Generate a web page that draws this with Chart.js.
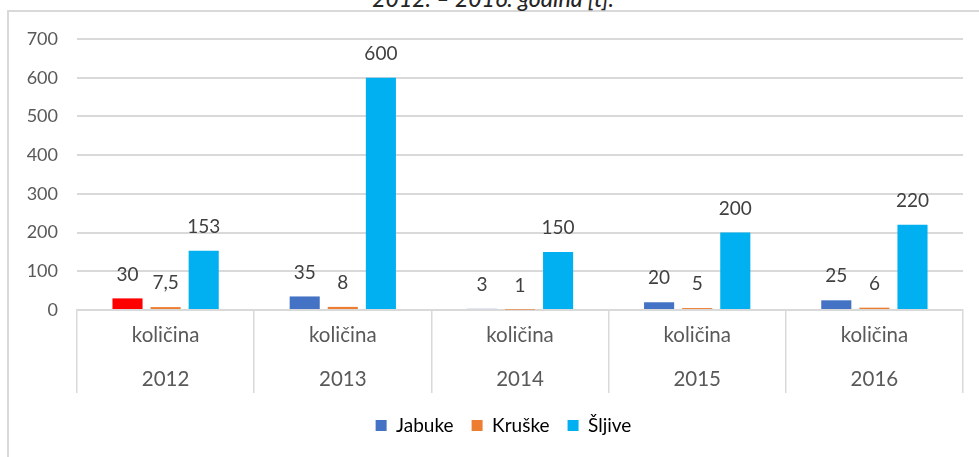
<!DOCTYPE html>
<html>
<head>
<meta charset="utf-8">
<script src="https://cdn.jsdelivr.net/npm/chart.js@4/dist/chart.umd.min.js"></script>
<style>
  html, body { margin: 0; padding: 0; background: #fff; overflow: hidden; }
  #frame { position: absolute; left: 7px; top: 10px; width: 1100px; height: 600px;
           border-top: 2px solid #d9d9d9; border-left: 2px solid #d9d9d9; }
  #title { position: absolute; top: -13px; left: 493px; transform: translateX(-50%);
           font: italic 500 23px Lato, sans-serif; color: #262626; white-space: nowrap; line-height: 23px; }
  #wrap { position: absolute; left: 0; top: 0; width: 979px; height: 457px; }
</style>
</head>
<body>
<div id="frame"></div>
<div id="title">2012. – 2016. godina [t].</div>
<div id="wrap"><canvas id="chart"></canvas></div>
<script>
const years = ['2012', '2013', '2014', '2015', '2016'];
const measure = 'količina';
const jabuke = [30, 35, 3, 20, 25];
const kruske = [7.5, 8, 1, 5, 6];
const sljive = [153, 600, 150, 200, 220];
const yTicks = [0, 100, 200, 300, 400, 500, 600, 700];

const gridColor = '#d9d9d9';
const textColor = '#595959';

const valueLabels = {
  id: 'valueLabels',
  afterDatasetsDraw(chart) {
    const ctx = chart.ctx;
    ctx.save();
    ctx.font = '19px Lato, sans-serif';
    ctx.fillStyle = '#404040';
    ctx.textAlign = 'center';
    ctx.textBaseline = 'middle';
    chart.data.datasets.forEach((ds, i) => {
      chart.getDatasetMeta(i).data.forEach((bar, j) => {
        ctx.fillText(String(ds.data[j]).replace('.', ','), bar.x, bar.y - 24);
      });
    });
    ctx.restore();
  }
};

// legend sits a bit right of centre in the original
const legendShift = {
  id: 'legendShift',
  afterLayout(chart) {
    chart.legend.left += 22;
    chart.legend.right += 22;
  }
};

new Chart(document.getElementById('chart'), {
  type: 'bar',
  data: {
    labels: years.map(y => [measure, y]),
    datasets: [
      { label: 'Jabuke', data: jabuke,
        backgroundColor: jabuke.map((v, i) => i === 0 ? '#ff0000' : '#4472c4') },
      { label: 'Kruške', data: kruske, backgroundColor: '#ed7d31' },
      { label: 'Šljive', data: sljive, backgroundColor: '#00b0f0' }
    ]
  },
  options: {
    responsive: true,
    maintainAspectRatio: false,
    animation: false,
    categoryPercentage: 0.645,
    barPercentage: 0.79,
    layout: { padding: { top: 39, right: 16, bottom: 12, left: 0 } },
    plugins: {
      legend: {
        position: 'bottom',
        labels: {
          boxWidth: 11, boxHeight: 11, padding: 18,
          color: textColor, font: { family: 'Lato', size: 19 },
          generateLabels(chart) {
            return chart.data.datasets.map((ds, i) => ({
              text: ds.label,
              fillStyle: ['#4472c4', '#ed7d31', '#00b0f0'][i],
              strokeStyle: 'transparent', lineWidth: 0, datasetIndex: i
            }));
          }
        }
      },
      tooltip: { enabled: false }
    },
    scales: {
      x: {
        grid: { drawOnChartArea: false, drawTicks: true, tickLength: 83, color: gridColor, lineWidth: 1.5 },
        border: { color: gridColor, width: 1.5 },
        ticks: { color: textColor, font: { family: 'Lato', size: 20.5, lineHeight: 2.15 }, padding: -80, maxRotation: 0 },
        afterFit(scale) { scale.height = 88; }
      },
      y: {
        min: 0, max: 700,
        afterBuildTicks(scale) { scale.ticks = yTicks.map(v => ({ value: v })); },
        grid: { color: gridColor, lineWidth: 2, drawTicks: false },
        border: { display: false },
        ticks: { color: textColor, font: { family: 'Lato', size: 18 }, padding: 19 },
        afterFit(scale) { scale.width = 77; }
      }
    }
  },
  plugins: [valueLabels, legendShift]
});
</script>
</body>
</html>
